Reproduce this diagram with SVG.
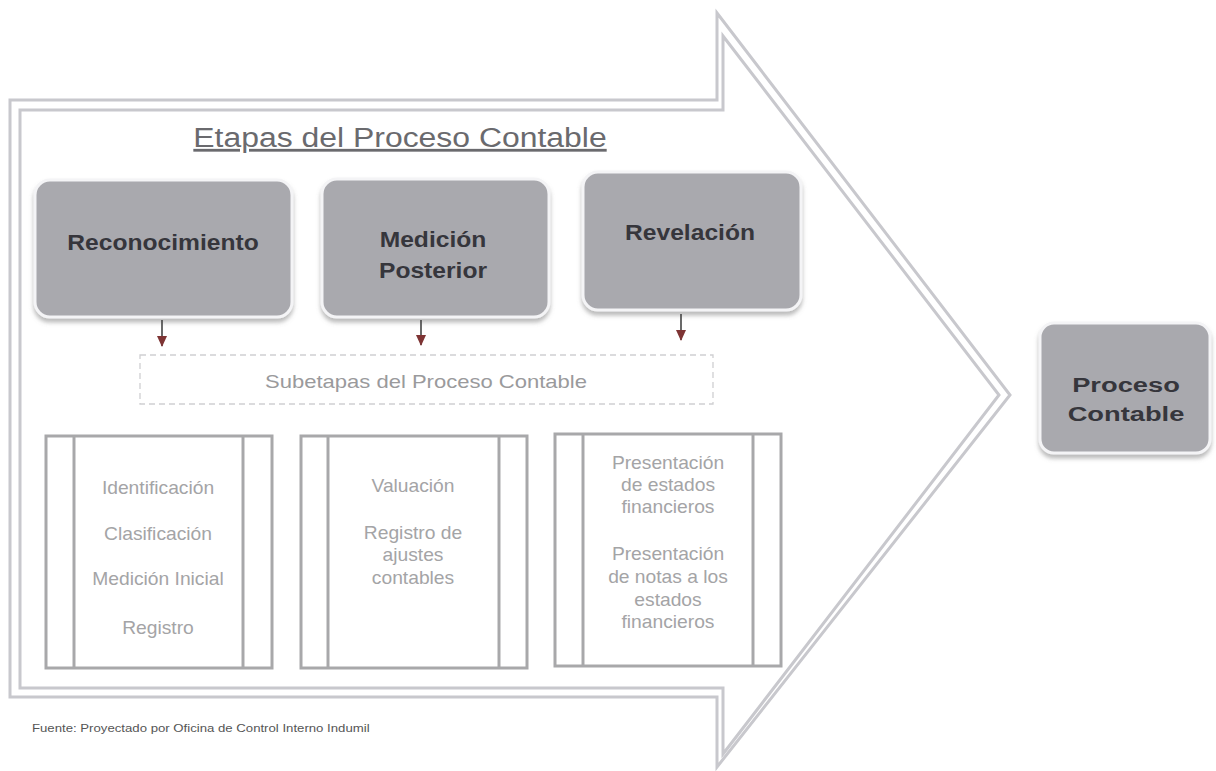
<svg xmlns="http://www.w3.org/2000/svg" width="1216" height="771" viewBox="0 0 1216 771">
<style>
.arrowline{fill:none;stroke:#c8c8cd;stroke-width:3;stroke-linejoin:miter}
.node{fill:#a9a9ae;stroke:#f4f4f6;stroke-width:3;filter:url(#sh)}
.nt{font-family:"Liberation Sans",Arial,sans-serif;font-weight:bold;font-size:22px;fill:#36363c}
.sub{fill:#fff;stroke:#a8a8aa;stroke-width:3}
.subl{stroke:#a8a8aa;stroke-width:3}
.st{font-family:"Liberation Sans",Arial,sans-serif;font-size:17.5px;fill:#a4a4a6}
.conn{stroke:#444;stroke-width:1.6;fill:none}
</style>
<defs>
<filter id="sh" x="-10%" y="-10%" width="120%" height="130%">
<feDropShadow dx="0" dy="4" stdDeviation="2" flood-color="#777" flood-opacity="0.5"/>
</filter>
<marker id="ah" markerWidth="11" markerHeight="10" refX="10" refY="5" orient="auto" markerUnits="userSpaceOnUse">
<path d="M0,0 L11,5 L0,10 Z" fill="#7e3434"/>
</marker>
</defs>
<rect width="1216" height="771" fill="#ffffff"/>

<g id="big-arrow">
<path class="arrowline" d="M10,100 L717,100 L717,13 L1010,395 L717,767 L717,697 L10,697 Z" style="fill:#fff"/>
<path class="arrowline" d="M20,110 L723,110 L723,36 L999,395 L723,754 L723,688 L20,688 Z"/>
</g>

<g id="title">
<g transform="translate(400,147) scale(1.14,1)">
<text x="0" y="0" text-anchor="middle" font-family="'Liberation Sans',Arial,sans-serif" font-size="28" fill="#6a6a6e" text-decoration="underline">Etapas del Proceso Contable</text>
</g>
</g>

<g id="node-reconocimiento">
<rect class="node" x="35" y="180" width="257" height="137" rx="15"/>
<g transform="translate(163,250) scale(1.12,1)"><text class="nt" x="0" y="0" text-anchor="middle">Reconocimiento</text></g>
</g>

<g id="node-medicion">
<rect class="node" x="322" y="179" width="227" height="138" rx="15"/>
<g transform="translate(433,0) scale(1.12,1)">
<text class="nt" x="0" y="247" text-anchor="middle">Medición</text>
<text class="nt" x="0" y="278" text-anchor="middle">Posterior</text>
</g>
</g>

<g id="node-revelacion">
<rect class="node" x="583" y="172" width="218" height="138" rx="15"/>
<g transform="translate(690,240) scale(1.12,1)"><text class="nt" x="0" y="0" text-anchor="middle">Revelación</text></g>
</g>

<g id="connectors">
<line class="conn" x1="162" y1="320" x2="162" y2="346" marker-end="url(#ah)"/>
<line class="conn" x1="421" y1="320" x2="421" y2="345" marker-end="url(#ah)"/>
<line class="conn" x1="681" y1="314" x2="681" y2="340" marker-end="url(#ah)"/>
</g>

<g id="subetapas">
<rect x="140" y="355" width="573" height="49" fill="none" stroke="#cfcfd2" stroke-width="1.3" stroke-dasharray="6,4"/>
<g transform="translate(426,388) scale(1.16,1)"><text x="0" y="0" text-anchor="middle" font-family="'Liberation Sans',Arial,sans-serif" font-size="19" fill="#9a9a9c">Subetapas del Proceso Contable</text></g>
</g>

<g id="sub-reconocimiento">
<rect class="sub" x="46" y="436" width="226" height="232"/>
<line class="subl" x1="74" y1="436" x2="74" y2="668"/>
<line class="subl" x1="243" y1="436" x2="243" y2="668"/>
<g transform="translate(158,0) scale(1.1,1)">
<text class="st" x="0" y="494" text-anchor="middle">Identificación</text>
<text class="st" x="0" y="540" text-anchor="middle">Clasificación</text>
<text class="st" x="0" y="585" text-anchor="middle">Medición Inicial</text>
<text class="st" x="0" y="634" text-anchor="middle">Registro</text>
</g>
</g>

<g id="sub-medicion">
<rect class="sub" x="301" y="436" width="226" height="232"/>
<line class="subl" x1="328" y1="436" x2="328" y2="668"/>
<line class="subl" x1="499" y1="436" x2="499" y2="668"/>
<g transform="translate(413,0) scale(1.1,1)">
<text class="st" x="0" y="492" text-anchor="middle">Valuación</text>
<text class="st" x="0" y="539" text-anchor="middle">Registro de</text>
<text class="st" x="0" y="561" text-anchor="middle">ajustes</text>
<text class="st" x="0" y="584" text-anchor="middle">contables</text>
</g>
</g>

<g id="sub-revelacion">
<rect class="sub" x="555" y="434" width="226" height="232"/>
<line class="subl" x1="583" y1="434" x2="583" y2="666"/>
<line class="subl" x1="753" y1="434" x2="753" y2="666"/>
<g transform="translate(668,0) scale(1.1,1)">
<text class="st" x="0" y="469" text-anchor="middle">Presentación</text>
<text class="st" x="0" y="491" text-anchor="middle">de estados</text>
<text class="st" x="0" y="513" text-anchor="middle">financieros</text>
<text class="st" x="0" y="560" text-anchor="middle">Presentación</text>
<text class="st" x="0" y="583" text-anchor="middle">de notas a los</text>
<text class="st" x="0" y="606" text-anchor="middle">estados</text>
<text class="st" x="0" y="628" text-anchor="middle">financieros</text>
</g>
</g>

<g id="node-proceso-contable">
<rect class="node" x="1040" y="323" width="170" height="130" rx="14"/>
<g transform="translate(1126,0) scale(1.3,1)">
<text class="nt" x="0" y="392" text-anchor="middle" style="font-size:21px">Proceso</text>
<text class="nt" x="0" y="421" text-anchor="middle" style="font-size:21px">Contable</text>
</g>
</g>

<g id="footer">
<g transform="translate(32,732) scale(1.2,1)"><text x="0" y="0" font-family="'Liberation Sans',Arial,sans-serif" font-size="11" fill="#555">Fuente: Proyectado por Oficina de Control Interno Indumil</text></g>
</g>
</svg>
